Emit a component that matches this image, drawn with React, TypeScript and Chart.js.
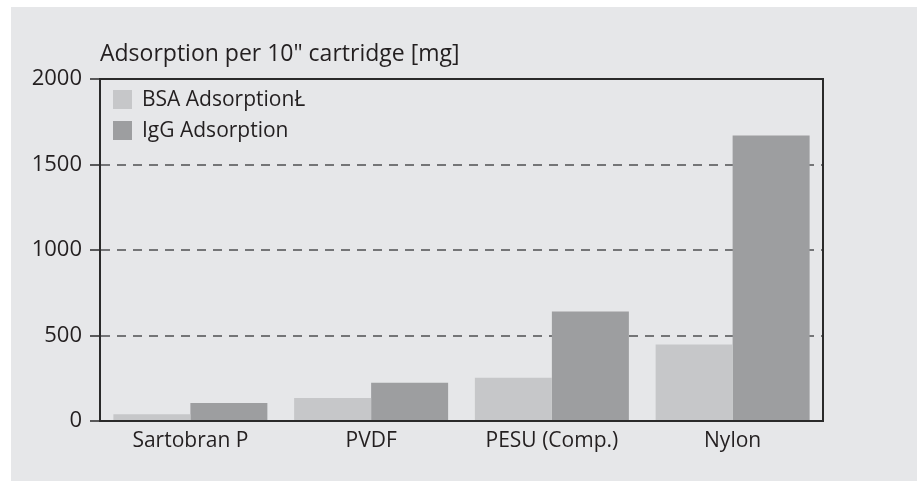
import React, { useEffect, useRef } from "react";
import { Chart, registerables } from "chart.js";

Chart.register(...registerables);

const categories = ["Sartobran P", "PVDF", "PESU (Comp.)", "Nylon"];
const bsaValues = [40, 135, 253, 447];
const iggValues = [105, 224, 641, 1670];
const seriesLabels = ["BSA AdsorptionŁ", "IgG Adsorption"];
const seriesColors = ["#c6c7c9", "#9d9ea0"];
const yTickValues = [0, 500, 1000, 1500, 2000];
const yAxisTitle = 'Adsorption per 10" cartridge [mg]';

const FONT_FAMILY = "'Open Sans', sans-serif";
const FONT_SIZE = 21;
const TEXT_COLOR = "#231f20";
const AXIS_COLOR = "#2a2a2a";

const framePlugin = {
  id: "frameAndLegend",
  afterDatasetsDraw(chart: any) {
    const { ctx, chartArea: a } = chart;
    ctx.save();
    // frame
    ctx.strokeStyle = AXIS_COLOR;
    ctx.lineWidth = 2;
    ctx.strokeRect(a.left, a.top, a.right - a.left, a.bottom - a.top);
    // legend
    ctx.font = `${FONT_SIZE}px ${FONT_FAMILY}`;
    ctx.textBaseline = "middle";
    ctx.textAlign = "left";
    chart.data.datasets.forEach((ds: any, i: number) => {
      const y = a.top + 11 + i * 31;
      ctx.fillStyle = ds.backgroundColor;
      ctx.fillRect(a.left + 13, y, 19, 19);
      ctx.fillStyle = TEXT_COLOR;
      ctx.fillText(ds.label, a.left + 42, y + 10);
    });
    // y axis title
    ctx.font = `23px ${FONT_FAMILY}`;
    ctx.textBaseline = "alphabetic";
    ctx.fillStyle = TEXT_COLOR;
    ctx.fillText(yAxisTitle, a.left, a.top - 18);
    ctx.restore();
  },
};

export default function App() {
  const canvasRef = useRef<HTMLCanvasElement | null>(null);

  useEffect(() => {
    document.body.style.margin = "0";
    const canvas = canvasRef.current;
    if (!canvas) return;
    const chart = new Chart(canvas, {
      type: "bar",
      data: {
        labels: categories,
        datasets: [
          {
            label: seriesLabels[0],
            data: bsaValues,
            backgroundColor: seriesColors[0],
            borderWidth: 0,
            categoryPercentage: 0.852,
            barPercentage: 1.0,
          },
          {
            label: seriesLabels[1],
            data: iggValues,
            backgroundColor: seriesColors[1],
            borderWidth: 0,
            categoryPercentage: 0.852,
            barPercentage: 1.0,
          },
        ],
      },
      options: {
        responsive: false,
        animation: false,
        layout: { padding: { left: 0, top: 79, right: 94, bottom: 0 } },
        plugins: {
          legend: { display: false },
          tooltip: { enabled: false },
          title: { display: false },
        },
        scales: {
          x: {
            grid: { display: false, drawTicks: false },
            border: { display: true, color: AXIS_COLOR, width: 2 },
            ticks: {
              color: TEXT_COLOR,
              font: { family: FONT_FAMILY, size: FONT_SIZE },
              padding: 7,
              maxRotation: 0,
            },
            afterFit: (s: any) => {
              s.height = 60;
            },
          },
          y: {
            min: 0,
            max: 2000,
            afterBuildTicks: (s: any) => {
              s.ticks = yTickValues.map((v) => ({ value: v }));
            },
            grid: {
              color: (c: any) =>
                c.tick && c.tick.value > 0 && c.tick.value < 2000 ? "#747577" : "rgba(0,0,0,0)",
              lineWidth: 2,
              tickColor: AXIS_COLOR,
              tickWidth: 1.5,
              tickLength: 10,
            },
            border: { display: true, color: AXIS_COLOR, width: 2, dash: [9, 7] },
            ticks: {
              color: TEXT_COLOR,
              font: { family: FONT_FAMILY, size: 22 },
              padding: 8,
              callback: (v: any) => String(v),
            },
            afterFit: (s: any) => {
              s.width = 100;
            },
          },
        },
      },
      plugins: [framePlugin],
    });
    return () => chart.destroy();
  }, []);

  return (
    <div style={{ position: "absolute", left: 0, top: 0, width: 917, height: 481, background: "#ffffff" }}>
      <div style={{ position: "absolute", left: 11, top: 7, width: 906, height: 474, background: "#e6e7e9" }} />
      <canvas
        ref={canvasRef}
        width={917}
        height={481}
        style={{ position: "absolute", left: 0, top: 0, width: 917, height: 481 }}
      />
    </div>
  );
}
